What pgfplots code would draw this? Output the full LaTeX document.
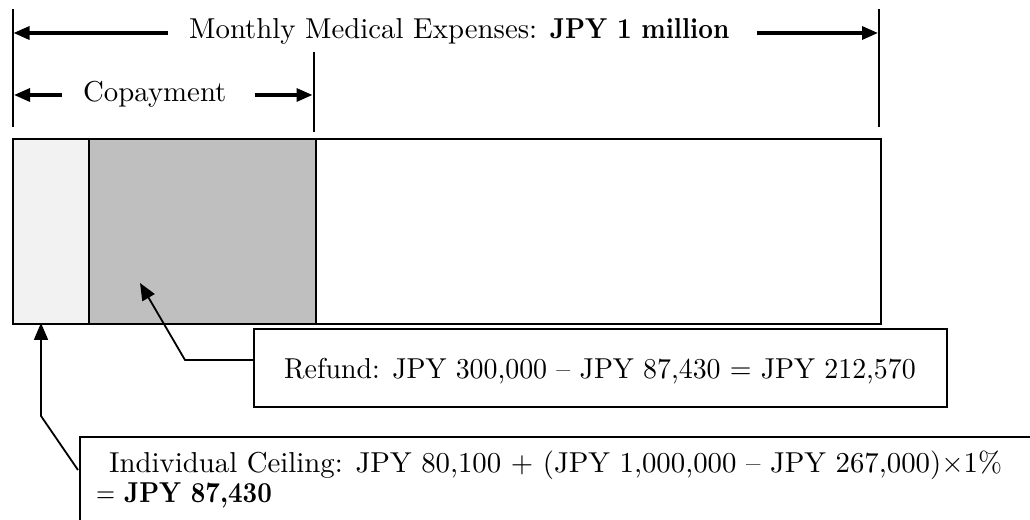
\documentclass[border=0pt]{standalone}
\usepackage{fontspec}
\setmainfont{lmroman10}[Extension=.otf,UprightFont=*-regular,BoldFont=*-bold,ItalicFont=*-italic,BoldItalicFont=*-bolditalic]
\usepackage{graphicx}
\usepackage{pgfplots}
\pgfplotsset{compat=1.18}
\usetikzlibrary{arrows.meta}
\definecolor{lightfill}{HTML}{F2F2F2}
\definecolor{grayfill}{HTML}{BFBFBF}
\begin{document}
\begin{tikzpicture}[
  font=\fontsize{28.8bp}{38bp}\selectfont,
  bigarr/.style={line width=3.2bp,-{Triangle[length=16bp,width=13bp]}},
  thin/.style={line width=2bp},
  lead/.style={line width=1.8bp,-{Triangle[length=17bp,width=14bp]}}]
\begin{axis}[
  width=1030bp,height=519bp,scale only axis,
  xmin=-14.977,xmax=1171.66,ymin=0,ymax=519,y dir=reverse,
  hide axis,clip=false,
  xbar stacked,bar width=185bp]
% bar segments (JPY thousand, as drawn)
\addplot[fill=lightfill,draw=black,line width=2.2bp] coordinates {(87.43,231.5)};
\addplot[fill=grayfill,draw=black,line width=2.2bp] coordinates {(261.6,231.5)};
\addplot[fill=white,draw=black,line width=2.2bp] coordinates {(650.97,231.5)};
\end{axis}
\begin{scope}[shift={(current axis.north west)},x=1bp,y=-1bp]
% brackets
\draw[thin] (12.5,9) -- (12.5,127);
\draw[thin] (879,9) -- (879,127);
\draw[thin] (313.5,52) -- (313.5,132);
\draw[bigarr] (168,33) -- (13.5,33);
\draw[bigarr] (757,33) -- (878,33);
\draw[bigarr] (62,95) -- (14,95);
\draw[bigarr] (255,95) -- (312.5,95);
\node[anchor=base west,inner sep=0pt] at (189,39) {Monthly Medical Expenses: \scalebox{0.885}[1]{\textbf{JPY 1 million}}};
\node[anchor=base west,inner sep=0pt] at (83,102) {Copayment};
% refund box
\draw[thin] (254,329) rectangle (947,407);
\node[anchor=base,inner sep=0pt] at (600,379) {\scalebox{0.968}[1]{Refund: JPY 300,000 – JPY 87,430 = JPY 212,570}};
\draw[lead] (254,360) -- (185,360) -- (140,283);
% ceiling box
\draw[thin] (80,540) -- (80,437) -- (1040,437);
\node[anchor=base west,inner sep=0pt] at (109,473) {Individual Ceiling: JPY 80,100 + (JPY 1,000,000 – JPY 267,000)×1\%};
\node[anchor=base west,inner sep=0pt] at (96,503) {\scalebox{0.85}[1]{=}};
\node[anchor=base west,inner sep=0pt] at (124,503) {\scalebox{0.88}[1]{\textbf{JPY 87,430}}};
\draw[lead] (78,470) -- (41,416) -- (41,323);
\end{scope}
\pgfresetboundingbox
\path (current axis.south west) rectangle (current axis.north east);
\end{tikzpicture}
\end{document}
